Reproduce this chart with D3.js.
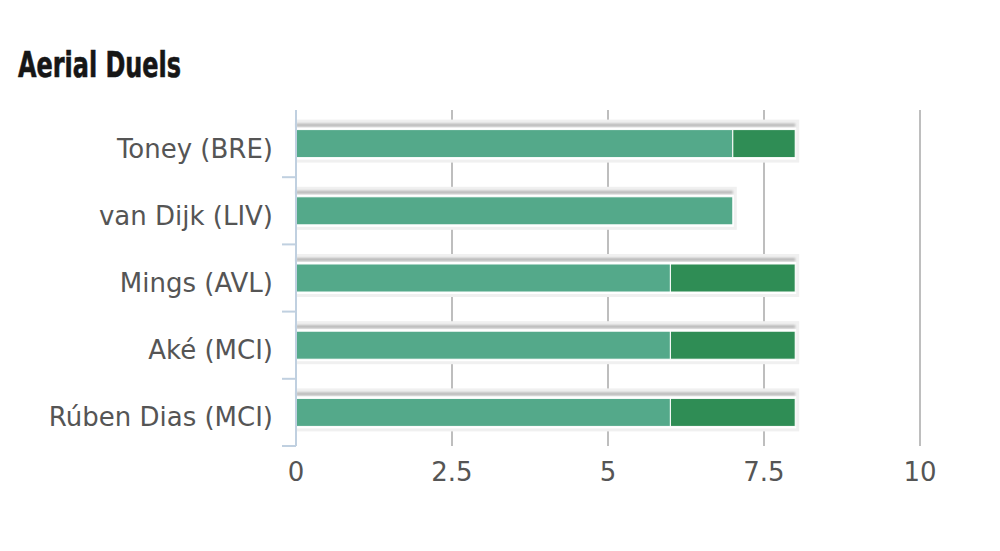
<!DOCTYPE html>
<html>
<head>
<meta charset="utf-8">
<script src="https://cdn.jsdelivr.net/npm/d3@7"></script>
<style>
  html, body { margin: 0; padding: 0; background: #fff; }
  svg { display: block; }
</style>
</head>
<body>
<svg id="chart" width="1000" height="551"></svg>
<script>
// Aerial duels, stacked horizontal bars

var players = ["Toney (BRE)", "van Dijk (LIV)", "Mings (AVL)", "Aké (MCI)", "Rúben Dias (MCI)"];
var firstPart = [7, 7, 6, 6, 6];
var secondPart = [1, 0, 2, 2, 2];
var xTicks = [0, 2.5, 5, 7.5, 10];
var xTickLabels = ["0", "2.5", "5", "7.5", "10"];

var svg = d3.select("#chart");

var x = d3.scaleLinear().domain([0, 10]).range([296, 920]);
var y = d3.scaleBand().domain(players).range([110, 446])
	.paddingInner(0.583).paddingOuter(0.2915);
var gap = (y.step() - y.bandwidth()) / 2;

var defs = svg.append("defs");
defs.append("filter").attr("id", "blur")
	.attr("x", "-5%").attr("y", "-100%").attr("width", "110%").attr("height", "300%")
	.append("feGaussianBlur").attr("stdDeviation", 1.2);

// title
svg.append("text")
	.attr("x", 18).attr("y", 77)
	.attr("textLength", 163).attr("lengthAdjust", "spacingAndGlyphs")
	.style("font-family", "'Liberation Sans Narrow', 'DejaVu Sans Condensed', sans-serif")
	.style("font-weight", "bold").style("font-size", "35px").style("fill", "#161616")
	.style("stroke", "#161616").style("stroke-width", 0.6)
	.text("Aerial Duels");

// grid lines
svg.append("g").selectAll("line")
	.data(xTicks.slice(1))
	.enter().append("line")
	.attr("x1", d => x(d)).attr("x2", d => x(d))
	.attr("y1", 110).attr("y2", 446)
	.attr("stroke", "#a8a8a8").attr("stroke-width", 1.5);

var rows = players.map((p, i) => ({name: p, a: firstPart[i], b: secondPart[i]}));

// shadows
var sh = svg.append("g");
sh.selectAll("rect.back")
	.data(rows).enter().append("rect")
	.attr("x", x(0))
	.attr("y", d => y(d.name) - 10)
	.attr("width", d => x(d.a + d.b) - x(0) + 4)
	.attr("height", y.bandwidth() + 15)
	.attr("fill", "#f0f0f0");
sh.selectAll("rect.top")
	.data(rows).enter().append("rect")
	.attr("x", x(0))
	.attr("y", d => y(d.name) - 6)
	.attr("width", d => x(d.a + d.b) - x(0))
	.attr("height", 3)
	.attr("fill", "#b5b5b5")
	.attr("filter", "url(#blur)");
sh.selectAll("rect.gap")
	.data(rows).enter().append("rect")
	.attr("x", x(0))
	.attr("y", d => y(d.name) - 2)
	.attr("width", d => x(d.a + d.b) - x(0) + 1)
	.attr("height", y.bandwidth() + 4)
	.attr("fill", "#fff");

// bars
var bars = svg.append("g");
bars.selectAll("rect.a")
	.data(rows).enter().append("rect")
	.attr("x", x(0))
	.attr("y", d => y(d.name))
	.attr("width", d => x(d.a) - x(0))
	.attr("height", y.bandwidth())
	.attr("fill", "#54a98a")
	.attr("stroke", "#fff").attr("stroke-width", 1);
bars.selectAll("rect.b")
	.data(rows.filter(d => d.b > 0)).enter().append("rect")
	.attr("x", d => x(d.a))
	.attr("y", d => y(d.name))
	.attr("width", d => x(d.a + d.b) - x(d.a))
	.attr("height", y.bandwidth())
	.attr("fill", "#2f8d55")
	.attr("stroke", "#fff").attr("stroke-width", 1);

// y axis line and ticks
var axisColor = "#c0d0e0";
svg.append("line")
	.attr("x1", x(0)).attr("x2", x(0))
	.attr("y1", 110).attr("y2", 446)
	.attr("stroke", axisColor).attr("stroke-width", 2);
svg.append("g").selectAll("line")
	.data(players)
	.enter().append("line")
	.attr("x1", x(0) - 14).attr("x2", x(0))
	.attr("y1", d => y(d) + y.bandwidth() + gap)
	.attr("y2", d => y(d) + y.bandwidth() + gap)
	.attr("stroke", axisColor).attr("stroke-width", 2);

// y labels
svg.append("g").selectAll("text")
	.data(players)
	.enter().append("text")
	.attr("x", 273)
	.attr("y", d => y(d) + y.bandwidth() / 2 + 14)
	.attr("text-anchor", "end")
	.style("font-family", "'DejaVu Sans', sans-serif")
	.style("font-size", "26px").style("fill", "#555")
	.text(d => d);

// x labels
svg.append("g").selectAll("text")
	.data(xTicks)
	.enter().append("text")
	.attr("x", d => x(d))
	.attr("y", 481)
	.attr("text-anchor", "middle")
	.style("font-family", "'DejaVu Sans', sans-serif")
	.style("font-size", "26px").style("fill", "#555")
	.text((d, i) => xTickLabels[i]);
</script>
</body>
</html>
